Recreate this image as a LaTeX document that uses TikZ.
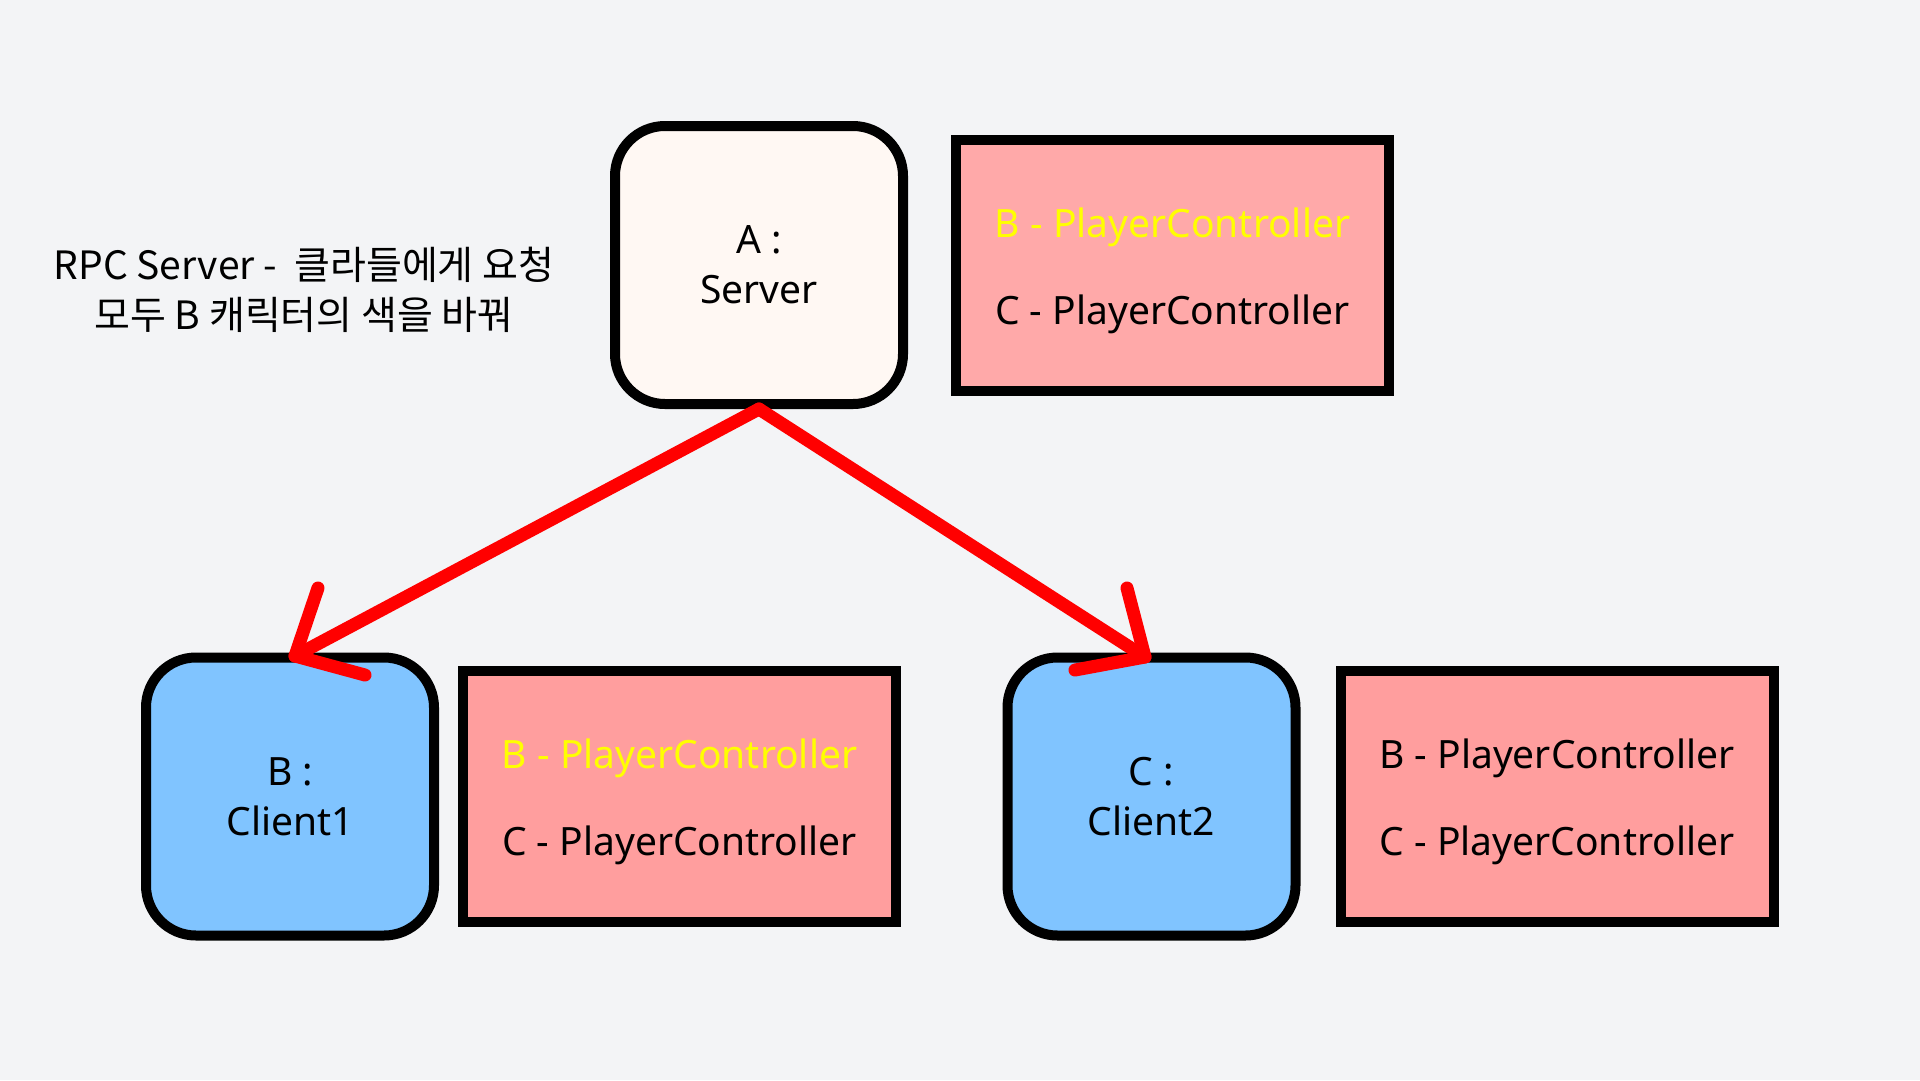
\documentclass[tikz,border=0pt]{standalone}
\usepackage{fontspec}
\setmainfont{Noto Sans}
\newfontfamily\krfont{Noto Sans CJK KR}
\definecolor{bgcol}{HTML}{F3F4F6}
\definecolor{srvfill}{HTML}{FFF8F3}
\definecolor{clifill}{HTML}{80C4FF}
\definecolor{topfill}{HTML}{FFA9A9}
\definecolor{lowfill}{HTML}{FF9E9E}
\definecolor{arrowred}{HTML}{FF0000}
\definecolor{yellowtxt}{HTML}{FFFF00}
\newcommand\myliststrut{\rule{0pt}{40pt}}
\begin{document}
\begin{tikzpicture}[x=1pt,y=-1pt,
  box/.style={draw=black, line width=10pt, rounded corners=50pt,
    minimum width=288pt, minimum height=278pt, inner sep=0pt,
    align=center, font=\fontsize{39}{50}\selectfont},
  srvbox/.style={box, fill=srvfill},
  clibox/.style={box, fill=clifill},
  listbox/.style={draw=black, line width=10pt, minimum width=433pt,
    minimum height=251pt, inner sep=0pt, align=center,
    font=\fontsize{39}{87}\selectfont},
  arrowline/.style={draw=arrowred, line width=13pt, line cap=round, line join=round},
]
\fill[bgcol] (0,0) rectangle (1920,1080);
\useasboundingbox (0,0) rectangle (1920,1080);

\node[align=center, font=\krfont\fontsize{39}{50}\selectfont] (note) at (304,290)
  {RPC Server -\ \ 클라들에게 요청\\모두 B 캐릭터의 색을 바꿔};

\node[srvbox] (srv) at (759,265) {A :\\Server};
\node[listbox, fill=topfill] (srvlist) at (1172.5,265.5)
  {\myliststrut\textcolor{yellowtxt}{B - PlayerController}\\C - PlayerController};

\node[clibox] (c1) at (290,796.5) {B :\\Client1};
\node[listbox, fill=lowfill] (c1list) at (679.5,796.5)
  {\myliststrut\textcolor{yellowtxt}{B - PlayerController}\\C - PlayerController};

\node[clibox] (c2) at (1151.5,796.5) {C :\\Client2};
\node[listbox, fill=lowfill] (c2list) at (1557,796.5)
  {\myliststrut B - PlayerController\\C - PlayerController};

\coordinate (tipL) at (295,656);
\coordinate (barbLa) at (318,588);
\coordinate (barbLb) at (365,675);
\coordinate (tipR) at (1145,657);
\coordinate (barbRa) at (1127,588);
\coordinate (barbRb) at (1075,670);

\draw[arrowline] (srv.south) -- (tipL);
\draw[arrowline] (barbLa) -- (tipL) -- (barbLb);
\draw[arrowline] (srv.south) -- (tipR);
\draw[arrowline] (barbRa) -- (tipR) -- (barbRb);
\end{tikzpicture}
\end{document}
